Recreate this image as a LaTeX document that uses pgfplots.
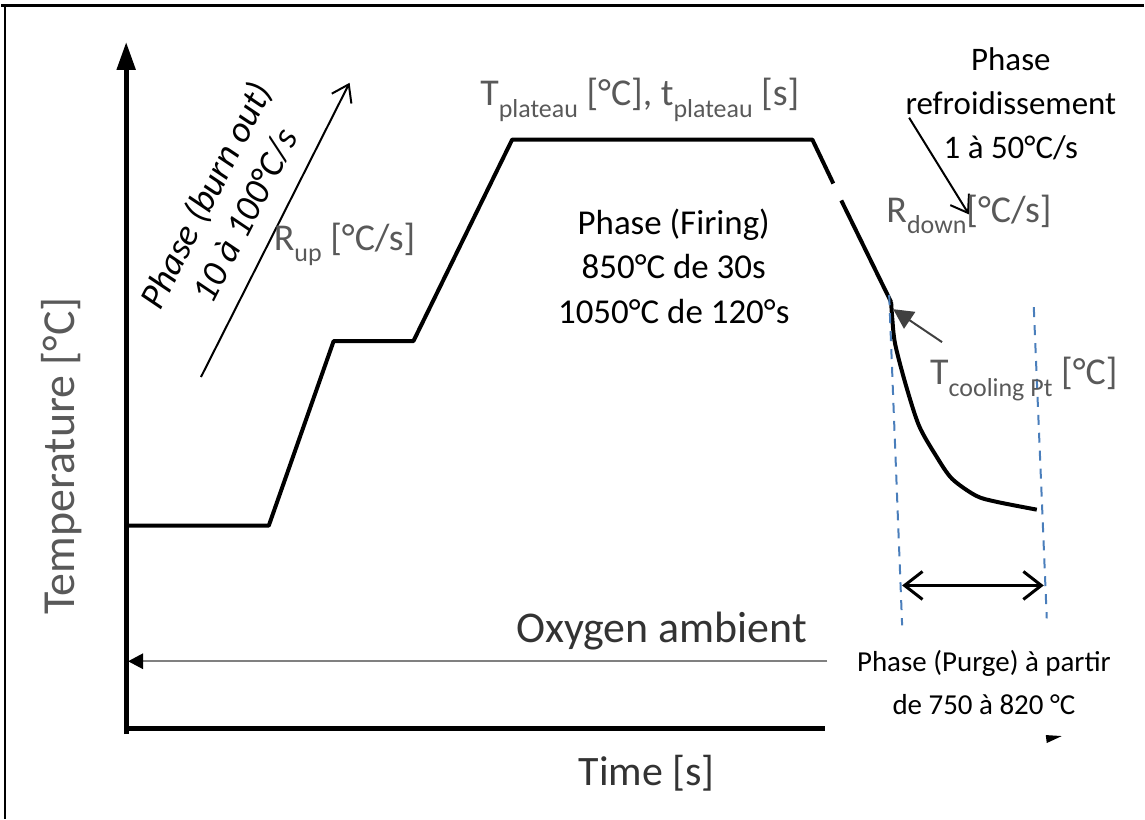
\documentclass[border=0pt]{standalone}
\usepackage{pgfplots}
\pgfplotsset{compat=1.18}
\usepackage{fontspec}
\setmainfont{Carlito}
\usetikzlibrary{arrows.meta}
\definecolor{lbl}{HTML}{595959}
\definecolor{txt}{HTML}{333333}
\definecolor{dblue}{HTML}{4A7EBB}
\newcommand{\sub}[1]{\raisebox{-0.3em}{\fontsize{13}{13}\selectfont #1}}
\begin{document}
\begin{tikzpicture}
\begin{axis}[scale only axis, width=572.5pt, height=410.5pt,
  xmin=0, xmax=1145, ymin=0, ymax=821, y dir=reverse,
  hide axis, clip=false]
% frame
\path (axis cs:0,0) rectangle (axis cs:1145,821);
\draw[line width=1.5pt] (axis cs:0,6) -- (axis cs:1145,6);
\draw[line width=1pt] (axis cs:4,6) -- (axis cs:4,821);
% axes
\draw[line width=2.5pt, -{Triangle[length=14pt,width=9pt]}] (axis cs:125,736) -- (axis cs:125,42);
\draw[line width=2.5pt] (axis cs:123,730) -- (axis cs:826,730);
\fill (axis cs:1047,737) -- (axis cs:1063,738) -- (axis cs:1048,745) -- cycle;
% temperature profile
\addplot[black, line width=2pt, line join=round] coordinates {(127,527) (268,527) (333,342) (413,342) (512,140) (813,140) (834,184)};
\addplot[black, line width=2pt] coordinates {(842,201) (892,303)};
\addplot[black, line width=2pt, smooth] coordinates {(892,303) (893,318) (896,345) (907,387) (920,427) (937,457) (953,480) (977,497) (997,503) (1038,511)};
% oxygen ambient
\draw[color=gray, line width=1.2pt] (axis cs:828,663) -- (axis cs:138,663);
\fill (axis cs:127,663) -- (axis cs:142,655) -- (axis cs:142,671) -- cycle;
% blue dashed
\draw[dblue, line width=1pt, dash pattern=on 5pt off 4pt] (axis cs:890,296) -- (axis cs:903,627);
\draw[dblue, line width=1pt, dash pattern=on 5pt off 4pt] (axis cs:1035,308) -- (axis cs:1048,620);
% double arrow
\draw[line width=1.5pt, {Straight Barb[length=9pt,width=14pt]}-{Straight Barb[length=9pt,width=14pt]}] (axis cs:903,587) -- (axis cs:1045,587);
% arrows
\draw[line width=1pt, -{Straight Barb[length=8pt,width=11pt]}] (axis cs:200,378) -- (axis cs:349,83);
\draw[line width=1pt, -{Straight Barb[length=8pt,width=11pt]}] (axis cs:910,118) -- (axis cs:970,215);
\draw[color=darkgray, line width=1pt, -{Triangle[length=10pt,width=10pt]}] (axis cs:943,343) -- (axis cs:894,310);
% labels
\node[rotate=90, text=lbl, font=\fontsize{23}{23}\selectfont] at (axis cs:60,457) {Temperature [°C]};
\node[text=txt, font=\fontsize{21}{21}\selectfont] at (axis cs:647,775) {Time [s]};
\node[text=txt, font=\fontsize{22}{22}\selectfont] at (axis cs:662,633) {Oxygen ambient};
\node[text=lbl, font=\fontsize{19}{19}\selectfont] at (axis cs:640,100) {T\sub{plateau} [°C], t\sub{plateau} [s]};
\node[text=lbl, font=\fontsize{19}{19}\selectfont] at (axis cs:344,245) {R\sub{up} [°C/s]};
\node[text=lbl, font=\fontsize{19}{19}\selectfont] at (axis cs:970,215) {R\sub{down}[°C/s]};
\node[text=lbl, font=\fontsize{19}{19}\selectfont] at (axis cs:1025,380) {T\sub{cooling Pt} [°C]};
\node[align=center, font=\fontsize{17.5}{22.5}\selectfont] at (axis cs:674,267) {Phase (Firing)\\850°C de 30s\\1050°C de 120°s};
\node[align=center, font=\fontsize{16.5}{22}\selectfont] at (axis cs:1012,104) {Phase\\refroidissement\\1 à 50°C/s};
\node[align=center, font=\fontsize{14.5}{21.5}\selectfont] at (axis cs:985,684) {Phase (Purge) à partir\\de 750 à 820 °C};
\node[align=center, rotate=63, font=\fontsize{18.5}{22}\itshape\selectfont] at (axis cs:224,206) {Phase (burn out)\\10 à 100°C/s};
\end{axis}
\end{tikzpicture}
\end{document}
